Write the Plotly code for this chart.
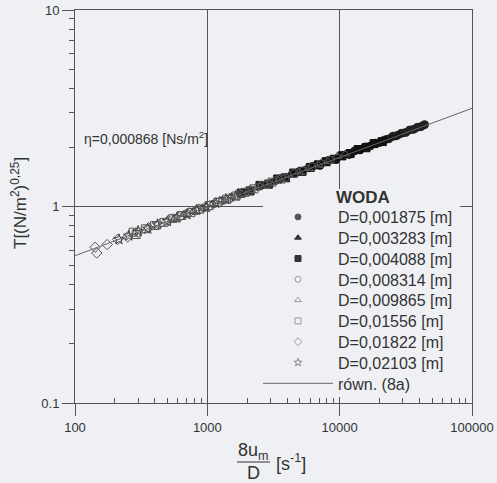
import plotly.graph_objects as go

# ---------------- data ----------------
x_d1 = [6200, 7100, 8300, 9400, 10500, 11800, 13000, 14200, 15600, 17000, 18500, 20100,
        21800, 23500, 25300, 27200, 29300, 31500, 33800, 36200, 38700, 41200, 43800]
t_d1 = [1.60, 1.62, 1.72, 1.74, 1.82, 1.84, 1.92, 1.94, 2.01, 2.03, 2.10, 2.12,
        2.18, 2.21, 2.28, 2.30, 2.36, 2.38, 2.45, 2.47, 2.53, 2.55, 2.61]

x_d2 = [3100, 3600, 4200, 4800, 5500, 6300, 7200, 8200, 9300, 10600, 12000, 13600,
        15400, 17400, 19700, 22200, 25000, 28000]
t_d2 = [1.33, 1.39, 1.44, 1.50, 1.54, 1.60, 1.65, 1.71, 1.76, 1.82, 1.87, 1.94,
        1.99, 2.06, 2.12, 2.19, 2.24, 2.32]

x_d3 = [1800, 2100, 2500, 2900, 3400, 3900, 4500, 5200, 6000, 6900, 7900, 9100,
        10400, 12000, 13800, 15800, 18200, 21000]
t_d3 = [1.17, 1.20, 1.28, 1.30, 1.38, 1.40, 1.48, 1.51, 1.58, 1.63, 1.69, 1.74,
        1.81, 1.86, 1.95, 1.99, 2.09, 2.14]

x_d4 = [700, 820, 960, 1120, 1300, 1520, 1780, 2080, 2430, 2840, 3320, 3880,
        4540, 5300, 6200, 7250, 8500]
t_d4 = [0.92, 0.95, 0.99, 1.03, 1.07, 1.11, 1.16, 1.20, 1.26, 1.30, 1.36, 1.40,
        1.47, 1.52, 1.59, 1.65, 1.72]

x_d5 = [560, 660, 780, 920, 1090, 1290, 1520, 1800, 2130, 2520, 2980, 3520,
        4160, 4920, 5820, 6880, 8130, 9600, 11000]
t_d5 = [0.86, 0.91, 0.94, 0.98, 1.03, 1.07, 1.12, 1.16, 1.21, 1.27, 1.32, 1.38,
        1.44, 1.50, 1.56, 1.63, 1.70, 1.80, 1.85]

x_d6 = [275, 290, 340, 400, 470, 550, 640, 750, 880, 1030, 1200, 1400, 1640,
        1920, 2250, 2630, 3080, 3600]
t_d6 = [0.74, 0.72, 0.77, 0.80, 0.83, 0.87, 0.90, 0.93, 0.97, 1.01, 1.05, 1.09, 1.13,
        1.18, 1.23, 1.28, 1.33, 1.38]

x_d7 = [142, 146, 175, 210, 250, 300, 360, 430, 510, 610, 730, 870, 1040,
        1240, 1480, 1770, 2110]
t_d7 = [0.62, 0.58, 0.64, 0.68, 0.70, 0.74, 0.78, 0.81, 0.85, 0.88, 0.93, 0.97, 1.01,
        1.06, 1.10, 1.16, 1.21]

x_d8 = [215, 255, 300, 355, 420, 500, 590, 700, 830, 980, 1160, 1380, 1630]
t_d8 = [0.68, 0.71, 0.75, 0.77, 0.81, 0.84, 0.88, 0.91, 0.96, 0.99, 1.04, 1.09, 1.13]

line_x = [100, 100000]
line_t = [0.562, 3.16]

series_names = ["D=0,001875 [m]", "D=0,003283 [m]", "D=0,004088 [m]", "D=0,008314 [m]",
                "D=0,009865 [m]", "D=0,01556 [m]", "D=0,01822 [m]", "D=0,02103 [m]"]
line_name = "równ. (8a)"
legend_title = "WODA"
eta_text = "η=0,000868 [Ns/m<sup>2</sup>]"
y_title = "T[(N/m<sup>2</sup>)<sup>0,25</sup>]"

x_tickvals = [100, 1000, 10000, 100000]
x_ticktext = ["100", "1000", "10000", "100000"]
y_tickvals = [0.1, 1, 10]
y_ticktext = ["0.1", "1", "10"]

# ---------------- styling ----------------
BG = "#eef0f4"
INK = "#333333"
LINE = "#555555"
FONT = "Liberation Sans, Arial, sans-serif"

xs = [x_d1, x_d2, x_d3, x_d4, x_d5, x_d6, x_d7, x_d8]
ts = [t_d1, t_d2, t_d3, t_d4, t_d5, t_d6, t_d7, t_d8]
symbols = ["circle", "triangle-up", "square", "circle-open", "triangle-up-open",
           "square-open", "diamond-open", "star-open"]
colors = ["#222222", "#151515", "#111111", "#555555", "#555555", "#555555", "#555555", "#444444"]
legend_colors = ["#555555", "#333333", "#333333", "#999999", "#999999", "#999999", "#999999", "#888888"]

# plot area in pixels: x 75..472, y 10..403
L, R, T, B = 75, 472, 10, 403
W, H = 497, 483


def px(xp):
    return (xp - L) / (R - L)


def py(yp):
    return (B - yp) / (B - T)


fig = go.Figure()
for xv, tv, nm, sym, col in zip(xs, ts, series_names, symbols, colors):
    fig.add_trace(go.Scatter(
        x=xv, y=tv, mode="markers", name=nm, showlegend=False,
        marker=dict(symbol=sym, size=8, color=col, line=dict(color=col, width=1)),
    ))

fig.add_trace(go.Scatter(x=line_x, y=line_t, mode="lines", name=line_name, showlegend=False,
                         line=dict(color="#666666", width=1)))

# legend: one small legend per row so the row spacing matches the original
ROW0, ROWH = 217, 20.8
legend_layouts = {}
for i, (nm, sym, col) in enumerate(zip(series_names, symbols, legend_colors)):
    key = "legend" if i == 0 else f"legend{i + 1}"
    fig.add_trace(go.Scatter(x=[None], y=[None], mode="markers", name=nm, legend=key,
                             marker=dict(symbol=sym, size=6, color=col,
                                         line=dict(color=col, width=1))))
    legend_layouts[key] = i
key_line = f"legend{len(series_names) + 1}"
fig.add_trace(go.Scatter(x=[None], y=[None], mode="lines", name=line_name, legend=key_line,
                         line=dict(color="#666666", width=1)))
legend_layouts[key_line] = len(series_names)

for key, i in legend_layouts.items():
    fig.update_layout({key: dict(
        x=px(258), y=py(ROW0 + ROWH * i), xanchor="left", yanchor="middle",
        bgcolor="rgba(0,0,0,0)", borderwidth=0,
        font=dict(size=16, family=FONT, color=INK),
        itemwidth=70, tracegroupgap=0,
    )})

minor_x = [v * m for v in (100, 1000, 10000) for m in range(2, 10)]
minor_y = [v * m for v in (0.1, 1) for m in range(2, 10)]

fig.update_layout(
    width=W, height=H,
    margin=dict(l=L, r=W - R, t=T, b=H - B, pad=0),
    paper_bgcolor=BG, plot_bgcolor=BG,
    font=dict(family=FONT, color=INK, size=13),
    showlegend=True,
    xaxis=dict(
        type="log", range=[2, 5], automargin=False,
        tickmode="array", tickvals=x_tickvals, ticktext=x_ticktext,
        ticks="outside", ticklen=12, tickcolor=LINE, tickwidth=1,
        showline=True, linecolor=LINE, linewidth=1, mirror=True,
        showgrid=True, gridcolor=LINE, gridwidth=1,
        zeroline=False,
        tickfont=dict(size=13, family=FONT, color=INK),
        minor=dict(tickmode="array", tickvals=minor_x, ticks="inside", ticklen=5,
                   tickcolor=LINE, showgrid=False),
    ),
    yaxis=dict(
        type="log", range=[-1, 1], automargin=False,
        tickmode="array", tickvals=y_tickvals, ticktext=y_ticktext,
        ticks="outside", ticklen=12, tickcolor=LINE, tickwidth=1,
        showline=True, linecolor=LINE, linewidth=1, mirror=True,
        showgrid=True, gridcolor=LINE, gridwidth=1,
        zeroline=False,
        tickfont=dict(size=13, family=FONT, color=INK),
        minor=dict(tickmode="array", tickvals=minor_y, ticks="outside", ticklen=5,
                   tickcolor=LINE, showgrid=False),
    ),
)

# background box behind the legend (hides grid lines like the original)
fig.add_shape(type="rect", xref="paper", yref="paper",
              x0=px(263), x1=px(460), y0=py(397), y1=py(189),
              fillcolor=BG, line=dict(width=0), layer="above")

# fraction line of the x title
fig.add_shape(type="line", xref="paper", yref="paper",
              x0=px(237), x1=px(270), y0=py(462), y1=py(462),
              line=dict(color=INK, width=1.2))

annotations = [
    dict(text="<b>" + legend_title + "</b>", x=px(334), y=py(197), xanchor="left",
         yanchor="middle", font=dict(size=17)),
    dict(text=eta_text, x=px(82), y=py(138), xanchor="left", yanchor="middle",
         font=dict(size=14)),
    dict(text=y_title, x=px(19), y=py(203), xanchor="center", yanchor="middle",
         textangle=-90, font=dict(size=17)),
    dict(text="8u<sub>m</sub>", x=px(253), y=py(451), xanchor="center", yanchor="middle",
         font=dict(size=18)),
    dict(text="D", x=px(253), y=py(473), xanchor="center", yanchor="middle",
         font=dict(size=18)),
    dict(text="[s<sup>-1</sup>]", x=px(274), y=py(462), xanchor="left", yanchor="middle",
         font=dict(size=18)),
]
for a in annotations:
    a.update(xref="paper", yref="paper", showarrow=False)
    fig.add_annotation(**a)

fig.write_html("out.html")
